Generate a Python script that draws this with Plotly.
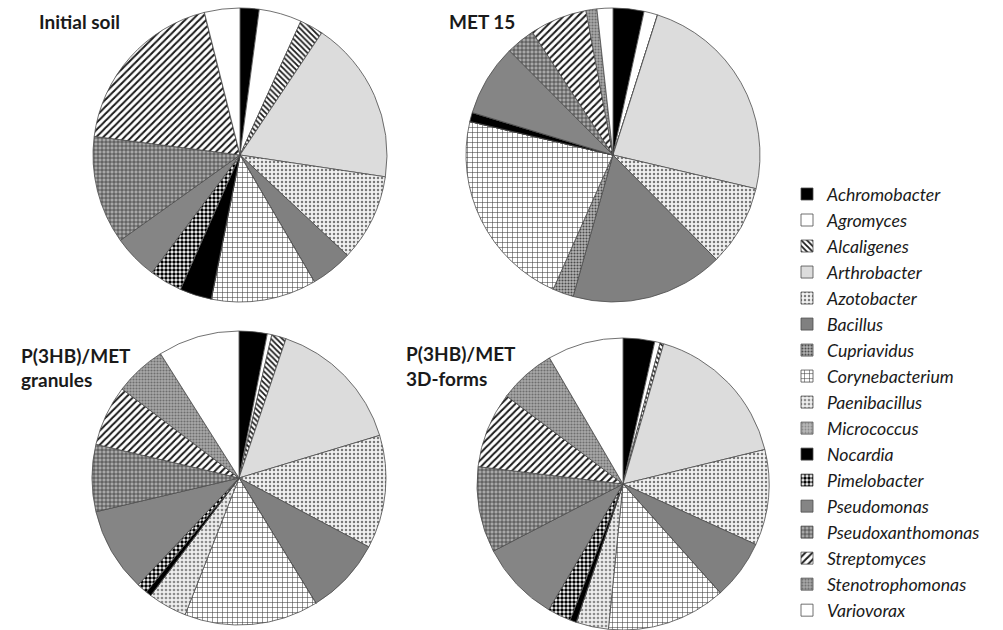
import plotly.graph_objects as go

# Bacterial genera (legend order, also clockwise slice order from 12 o'clock)
genera = [
    "Achromobacter", "Agromyces", "Alcaligenes", "Arthrobacter", "Azotobacter",
    "Bacillus", "Cupriavidus", "Corynebacterium", "Paenibacillus", "Micrococcus",
    "Nocardia", "Pimelobacter", "Pseudomonas", "Pseudoxanthomonas",
    "Streptomyces", "Stenotrophomonas", "Variovorax",
]

# Relative abundance, % of isolates
initial_soil = [2.1, 4.7, 2.6, 18.0, 9.6, 4.6, 0, 11.6, 0, 0, 3.5, 3.6, 4.9, 11.9, 19.1, 0, 3.9]
met_15 = [3.4, 1.5, 0, 23.8, 8.9, 16.8, 2.3, 22.0, 0, 0, 1.0, 0, 7.9, 3.2, 6.3, 1.2, 1.75]
granules = [3.1, 0.5, 1.6, 15.2, 12.5, 8.5, 0, 14.8, 4.3, 0, 0.6, 1.2, 9.3, 7.4, 6.7, 5.7, 9.0]
forms_3d = [3.5, 0.6, 0.4, 16.7, 10.6, 6.6, 0, 13.2, 3.6, 0, 0.7, 2.6, 8.9, 9.5, 8.4, 6.3, 8.4]

# Panel headings, one list entry per text line
panel_titles = [["Initial soil"], ["MET 15"],
                ["P(3HB)/MET", "granules"], ["P(3HB)/MET", "3D-forms"]]

# Fill style per genus: (base colour, pattern shape, pattern fg, pattern size, solidity)
style = {
    "Achromobacter":     ("#000000", "",   "#000000", 4, 0.3),
    "Agromyces":         ("#ffffff", "",   "#000000", 4, 0.3),
    "Alcaligenes":       ("#ffffff", "\\", "#1a1a1a", 4, 0.45),
    "Arthrobacter":      ("#dcdcdc", "",   "#000000", 4, 0.3),
    "Azotobacter":       ("#f2f2f2", ".",  "#7a7a7a", 4, 0.3),
    "Bacillus":          ("#808080", "",   "#000000", 4, 0.3),
    "Cupriavidus":       ("#b5b5b5", ".",  "#4a4a4a", 3, 0.4),
    "Corynebacterium":   ("#ffffff", "+",  "#3a3a3a", 5, 0.2),
    "Paenibacillus":     ("#eeeeee", ".",  "#8c8c8c", 4, 0.35),
    "Micrococcus":       ("#b8b8b8", ".",  "#8a8a8a", 3, 0.3),
    "Nocardia":          ("#000000", "",   "#000000", 4, 0.3),
    "Pimelobacter":      ("#ffffff", ".",  "#000000", 4, 0.6),
    "Pseudomonas":       ("#858585", "",   "#000000", 4, 0.3),
    "Pseudoxanthomonas": ("#a8a8a8", "+",  "#2e2e2e", 4, 0.3),
    "Streptomyces":      ("#ffffff", "/",  "#1a1a1a", 5, 0.4),
    "Stenotrophomonas":  ("#a9a9a9", ".",  "#6e6e6e", 3, 0.4),
    "Variovorax":        ("#ffffff", "",   "#000000", 4, 0.3),
}

colors = [style[g][0] for g in genera]
shapes = [style[g][1] for g in genera]
fgs = [style[g][2] for g in genera]
sizes = [style[g][3] for g in genera]
solids = [style[g][4] for g in genera]

W, H = 1003, 630


def domain(cx, cy, r):
    return dict(x=[(cx - r) / W, (cx + r) / W], y=[1 - (cy + r) / H, 1 - (cy - r) / H])


panels = [
    (initial_soil, domain(240, 155, 147)),
    (met_15, domain(613, 155, 147)),
    (granules, domain(239, 478, 147)),
    (forms_3d, domain(623, 484, 146)),
]

fig = go.Figure()
for i, (vals, dom) in enumerate(panels):
    fig.add_trace(go.Pie(
        labels=genera,
        values=vals,
        sort=False,
        direction="clockwise",
        rotation=0,
        domain=dom,
        textinfo="none",
        hoverinfo="label+percent",
        showlegend=(i == 0),
        marker=dict(
            colors=colors,
            line=dict(color="#4d4d4d", width=0.8),
            pattern=dict(shape=shapes, fgcolor=fgs, bgcolor=colors,
                         size=sizes, solidity=solids, fillmode="replace"),
        ),
    ))

# Heading anchors: left x, centre y of each line (px)
title_pos = [(37, [22]), (447, [22]), (19, [355, 379]), (404, [353, 378])]
for (x, ys), lines in zip(title_pos, panel_titles):
    for y, line in zip(ys, lines):
        fig.add_annotation(x=x / W, y=1 - y / H, xref="paper", yref="paper",
                           xanchor="left", yanchor="middle", showarrow=False,
                           text=f"<b>{line}</b>",
                           font=dict(family="Lato", size=19, color="#1a1a1a"))

fig.update_layout(
    width=W, height=H,
    margin=dict(l=0, r=0, t=0, b=0, autoexpand=False),
    paper_bgcolor="white",
    plot_bgcolor="white",
    legend=dict(x=787 / W, y=1 - 176 / H, xanchor="left", yanchor="top",
                itemwidth=30,
                font=dict(family="Lato", size=17.7, color="#1a1a1a", style="italic"),
                traceorder="normal", itemclick=False),
)

fig.write_html("out.html")
